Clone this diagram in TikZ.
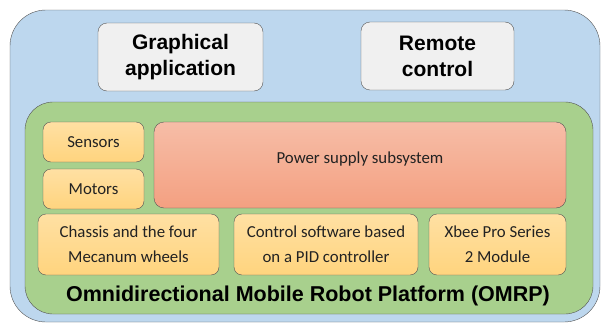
\documentclass[tikz,border=0pt]{standalone}
\usepackage{fontspec}
\setmainfont{Carlito}
\newfontfamily\headfont{Liberation Sans}
\definecolor{outerblue}{HTML}{BDD7EE}
\definecolor{innergreen}{HTML}{A8D08D}
\definecolor{boxgray}{HTML}{F0F0F0}
\definecolor{lineg}{HTML}{555555}
\definecolor{parttop}{HTML}{FFE0A3}
\definecolor{partbot}{HTML}{FFD47E}
\definecolor{powertop}{HTML}{F6BDA7}
\definecolor{powerbot}{HTML}{F4A081}
\definecolor{textg}{HTML}{222222}
\tikzset{
  part/.style={draw=lineg, rounded corners=8pt, top color=parttop, bottom color=partbot, align=center, text=textg, font=\fontsize{16.8}{25}\selectfont},
  tool/.style={draw=lineg, rounded corners=9pt, fill=boxgray, align=center, font=\headfont\bfseries\fontsize{21}{26}\selectfont}
}
\begin{document}
\begin{tikzpicture}[x=1pt,y=-1pt]
  \useasboundingbox (0,0) rectangle (603,324);

  \node[draw=lineg, fill=outerblue, rounded corners=36pt, minimum width=590pt, minimum height=312pt] (outer) at (305,166) {};
  \node[draw=lineg, fill=innergreen, rounded corners=28pt, minimum width=568pt, minimum height=212pt] (robot) at (309,208) {};

  \node[tool, minimum width=165pt, minimum height=68pt] (gui)    at (180.5,57) {Graphical\\application};
  \node[tool, minimum width=153pt, minimum height=68pt] (remote) at (437.5,56) {Remote\\control};

  \begin{scope}[every node/.append style={part}]
    \node[minimum width=101pt, minimum height=40pt] (sensors) at (93.5,142)  {Sensors};
    \node[minimum width=101pt, minimum height=40pt] (motors)  at (93.5,189)  {Motors};
    \node[minimum width=181pt, minimum height=61pt] (chassis) at (128.5,244.5) {Chassis and the four\\Mecanum wheels};
    \node[minimum width=184pt, minimum height=61pt] (control) at (326,244.5) {Control software based\\on a PID controller};
    \node[minimum width=137pt, minimum height=61pt] (xbee)    at (497.5,244.5) {Xbee Pro Series\\2 Module};
  \end{scope}

  \node[draw=lineg, rounded corners=10pt, top color=powertop, bottom color=powerbot, text=textg,
        minimum width=412pt, minimum height=86pt, text depth=14pt, font=\fontsize{16.8}{20}\selectfont] (power) at (360,165) {Power supply subsystem};

  \node[font=\headfont\bfseries\fontsize{21.5}{24}\selectfont] (title) at (308,296) {Omnidirectional Mobile Robot Platform (OMRP)};

\end{tikzpicture}
\end{document}
